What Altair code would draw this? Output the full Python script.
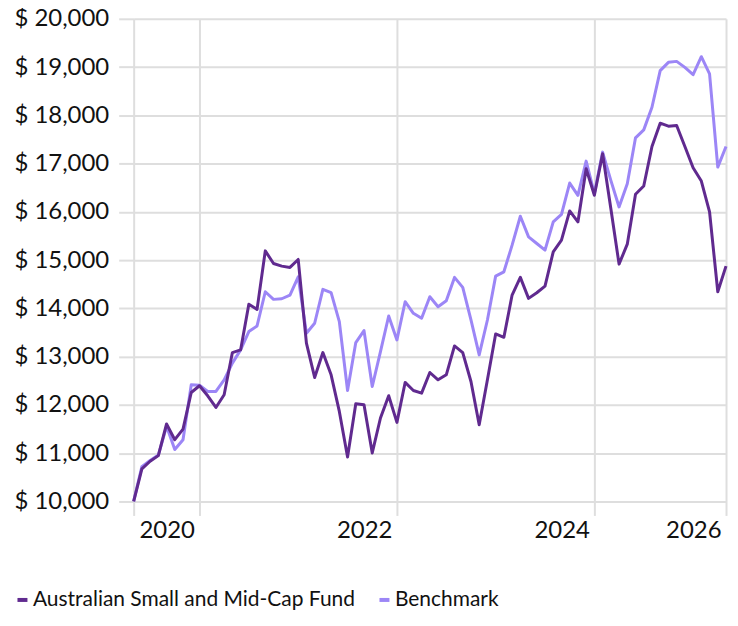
import altair as alt
import pandas as pd

# month index 0 .. 72 (monthly points)
fund = [10000, 10675, 10833, 10950, 11605, 11280, 11500, 12258, 12397, 12190,
        11948, 12210, 13085, 13140, 14085, 13980, 15192, 14930, 14876, 14849,
        15014, 13279, 12570, 13085, 12624, 11866, 10923, 12025, 12004, 11005,
        11729, 12190, 11639, 12466, 12300, 12245, 12672, 12520, 12624, 13223,
        13085, 12486, 11591, 12520, 13471, 13402, 14277, 14642, 14208, 14325,
        14463, 15172, 15413, 16019, 15792, 16894, 16343, 17204, 16068, 14917,
        15331, 16364, 16535, 17355, 17837, 17775, 17789, 17355, 16915, 16638,
        15998, 14345, 14876]
bench = [10000, 10720, 10850, 10960, 11556, 11075, 11280, 12417, 12410, 12280,
         12280, 12520, 12866, 13140, 13520, 13636, 14345, 14187, 14200, 14277,
         14655, 13486, 13692, 14394, 14325, 13725, 12300, 13292, 13540, 12382,
         13105, 13843, 13347, 14138, 13898, 13795, 14242, 14035, 14159, 14642,
         14435, 13760, 13037, 13760, 14669, 14758, 15310, 15909, 15482, 15345,
         15207, 15792, 15950, 16597, 16343, 17052, 16380, 17238, 16653, 16102,
         16584, 17534, 17699, 18168, 18926, 19098, 19118, 18994, 18843, 19215,
         18857, 16928, 17355]
series_names = ["Australian Small and Mid-Cap Fund", "Benchmark"]
series_colors = ["#602a8f", "#9c86f6"]
tick_idx = [0, 8, 32, 56, 72]
tick_labels = ["", "2020", "2022", "2024", "2026"]
y_ticks = list(range(10000, 20001, 1000))

rows = []
for i, v in enumerate(bench):
    rows.append({"idx": i, "value": v, "series": series_names[1], "ord": 0})
for i, v in enumerate(fund):
    rows.append({"idx": i, "value": v, "series": series_names[0], "ord": 1})
df = pd.DataFrame(rows)

label_expr = " : ".join(
    f"datum.value == {t} ? '{l}'" for t, l in zip(tick_idx, tick_labels)
) + " : ''"

FONT = "Lato"

chart = alt.Chart(df).mark_line(strokeWidth=3, strokeJoin="round").encode(
    x=alt.X("idx:Q",
            scale=alt.Scale(domain=[0, 72], nice=False, zero=False),
            axis=alt.Axis(values=tick_idx, labelExpr=label_expr, title=None,
                          domain=False, grid=True, gridColor="#dedede", gridWidth=2,
                          ticks=True, tickColor="#dedede", tickWidth=2, tickSize=14,
                          labelAlign="right", labelOffset=-5, labelPadding=3,
                          labelFontSize=24, labelColor="#111111", labelFont=FONT,
                          labelFlush=False)),
    y=alt.Y("value:Q",
            scale=alt.Scale(domain=[10000, 20000], nice=False, zero=False),
            axis=alt.Axis(values=y_ticks, labelExpr="'$ ' + format(datum.value, ',')",
                          title=None, domain=False, grid=True, gridColor="#dedede",
                          gridWidth=2, ticks=True, tickColor="#dedede", tickWidth=2,
                          tickSize=15, labelPadding=10, labelFontSize=24,
                          labelColor="#111111", labelFont=FONT)),
    color=alt.Color("series:N",
                    scale=alt.Scale(domain=series_names, range=series_colors),
                    legend=alt.Legend(orient="none", legendX=-122, legendY=572,
                                      direction="horizontal", title=None,
                                      symbolType="stroke", symbolStrokeWidth=4,
                                      symbolSize=100, labelFontSize=21,
                                      labelFont=FONT, labelColor="#111111",
                                      labelOffset=0, columnPadding=16,
                                      labelLimit=600)),
    order=alt.Order("ord:Q"),
    detail="series:N",
).properties(
    width=594, height=484,
    autosize=alt.AutoSizeParams(type="none"),
    padding={"left": 126, "top": 10, "right": 4, "bottom": 108},
).configure_view(stroke=None)

chart.save("out.html", embed_options={"renderer": "svg", "actions": False})
